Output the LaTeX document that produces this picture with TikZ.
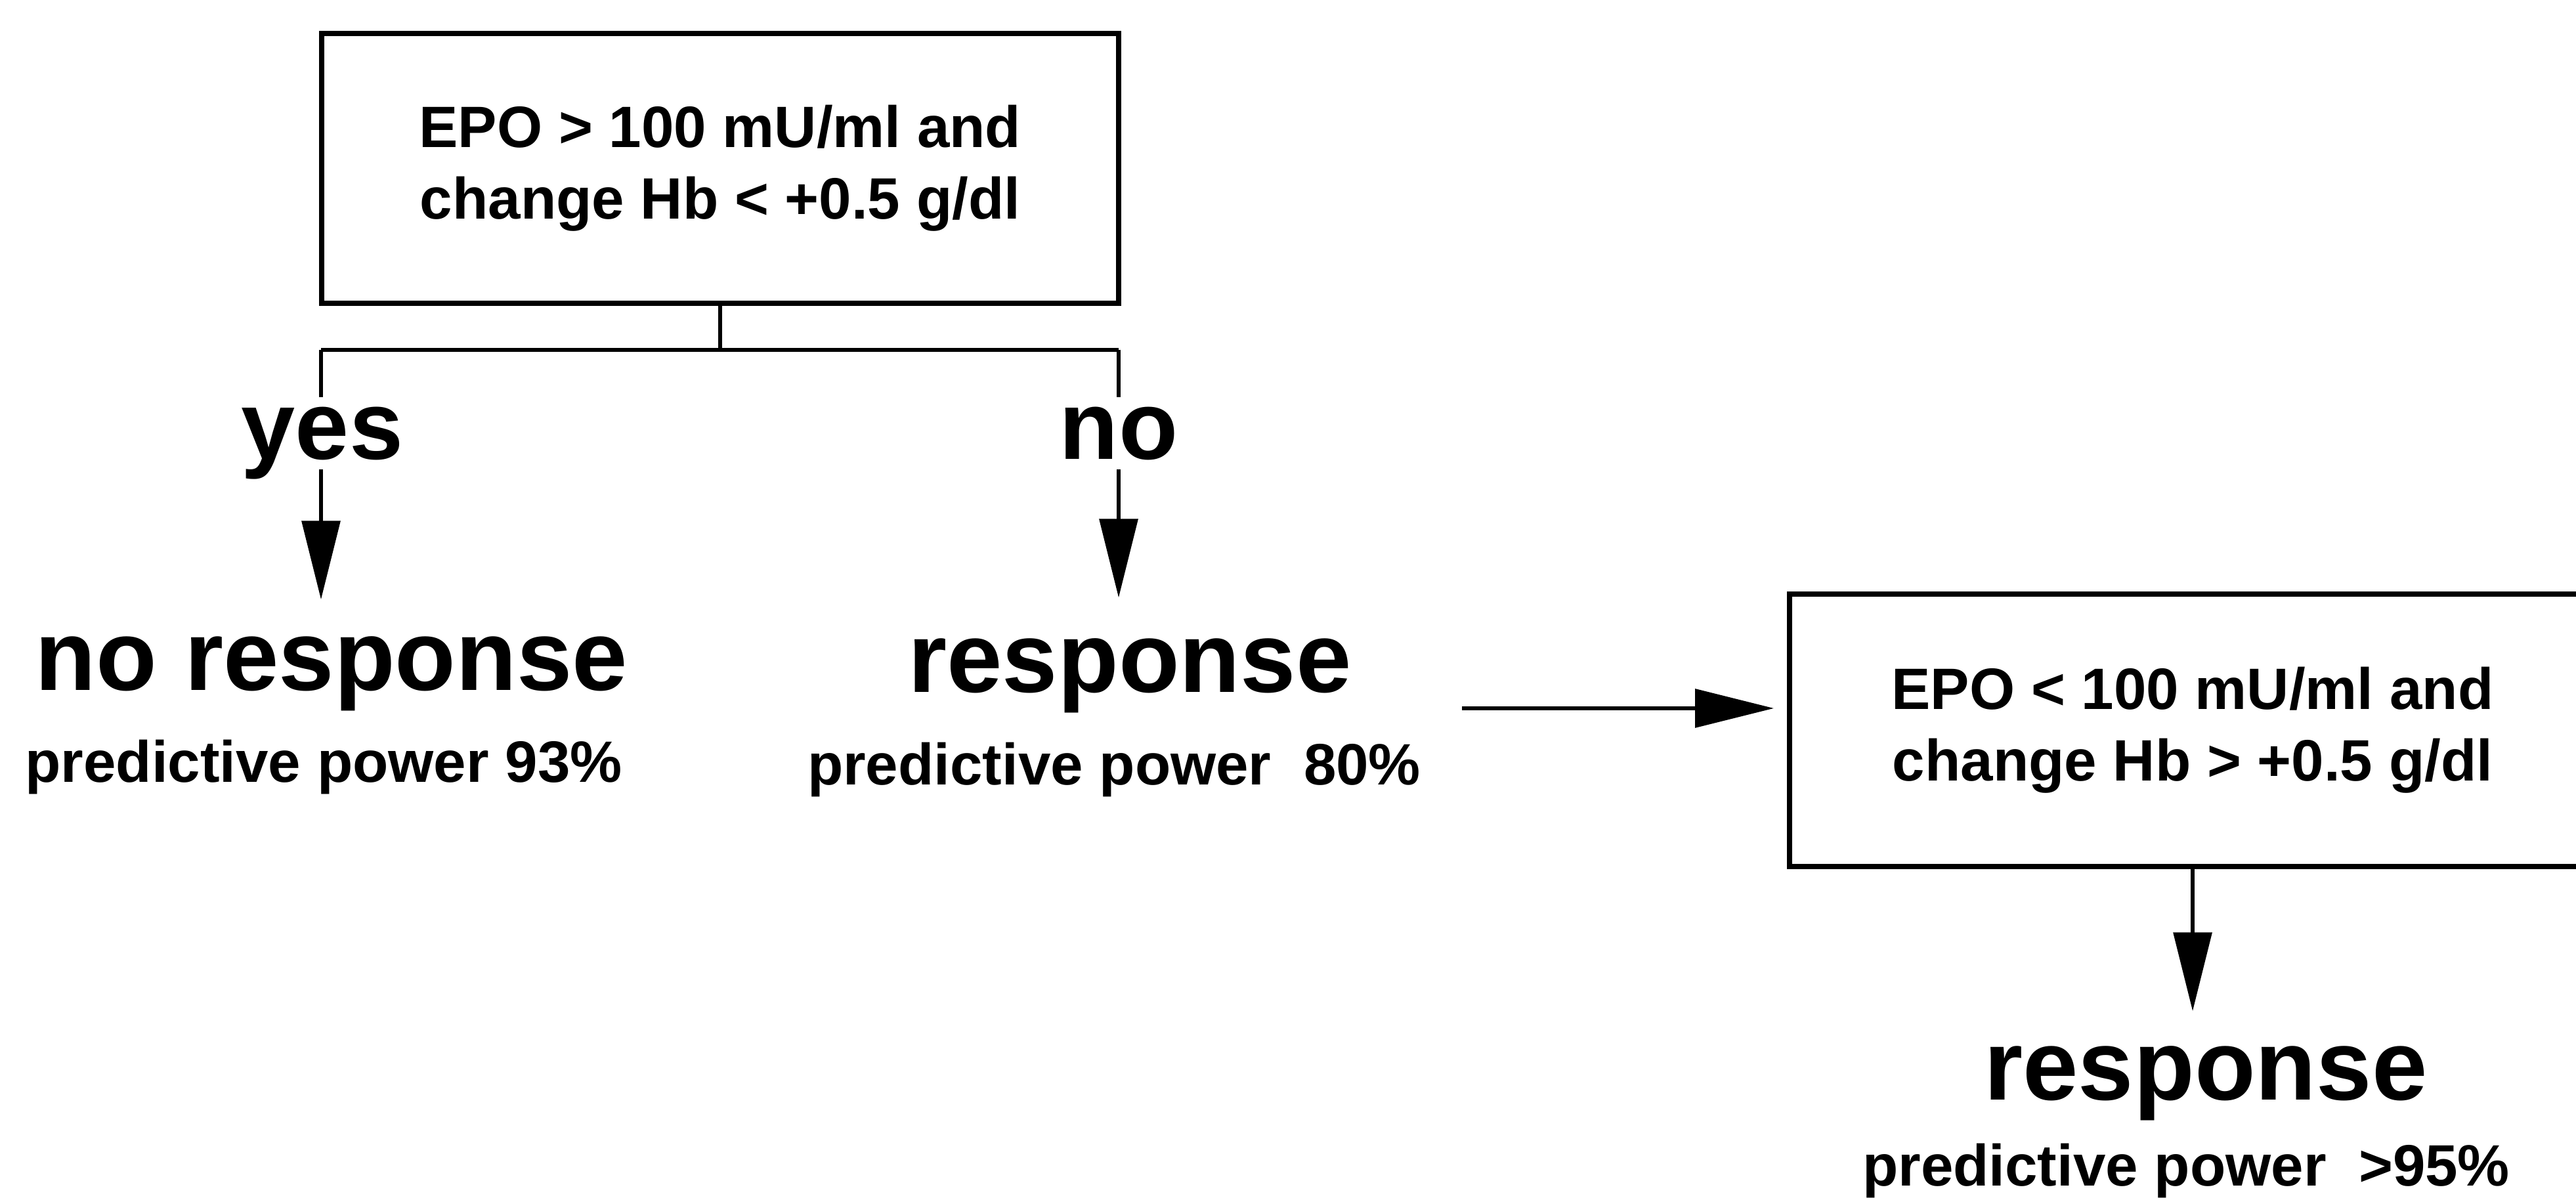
\documentclass[tikz,border=0pt]{standalone}
\usepackage{fontspec}
\setmainfont{Liberation Sans}
\usepackage{tikz}
\usetikzlibrary{positioning,arrows.meta}

\tikzset{
	cond/.style={draw, line width=2.2pt, minimum width=12.14cm, minimum height=4.11cm, align=center, font=\fontsize{25.3}{31}\selectfont\bfseries},
	bigtxt/.style={inner sep=0pt, anchor=base, font=\fontsize{43.2}{43.2}\selectfont\bfseries},
	smalltxt/.style={inner sep=0pt, anchor=base, font=\fontsize{25.3}{25.3}\selectfont\bfseries},
	lab/.style={fill=white, inner sep=0.15cm, text depth=0pt, anchor=base, font=\fontsize{42}{42}\selectfont\bfseries},
	wire/.style={line width=1.8pt},
	arr/.style={wire, -{Triangle[length=1.2cm, width=0.58cm]}},
}

\begin{document}
\begin{tikzpicture}
	\path[use as bounding box, fill=white] (0,0) rectangle (39.24,18.27);
	\node[cond] (epo1) at (10.97,15.705) {EPO > 100 mU/ml and\\change Hb < +0.5 g/dl};
	\node[cond, minimum width=12.28cm, minimum height=4.15cm] (epo2) at (33.40,7.145) {EPO < 100 mU/ml and\\change Hb > +0.5 g/dl};
	\node[bigtxt] (noresp) at (5.05,7.75) {no response};
	\node[smalltxt] (pp93) at (4.93,6.35) {predictive power 93\%};
	\node[bigtxt] (resp) at (17.21,7.72) {response};
	\node[smalltxt] (pp80) at (16.97,6.31) {predictive power\ \ 80\%};
	\node[bigtxt] (resp2) at (33.60,1.52) {response};
	\node[smalltxt] (pp95) at (33.30,0.21) {predictive power\ \ >95\%};
	\coordinate (split) at (10.97,12.94);
	\coordinate (ybar) at (4.89,12.94);
	\coordinate (nbar) at (17.04,12.94);
	\coordinate (hstart) at (22.27,7.48);
	\draw[wire] (epo1.south) -- (split);
	\draw[wire] (ybar) -- (nbar);
	\draw[arr, shorten >=0.56cm] (ybar) -- (ybar |- noresp.north);
	\draw[arr, shorten >=0.62cm] (nbar) -- (nbar |- resp.north);
	\draw[arr, shorten >=0.2cm] (hstart) -- (hstart -| epo2.west);
	\draw[arr, shorten >=0.52cm] (epo2.south) -- (epo2.south |- resp2.north);
	\node[lab] (yes) at (4.91,11.27) {yes};
	\node[lab] (no) at (17.04,11.27) {no};
\end{tikzpicture}
\end{document}
